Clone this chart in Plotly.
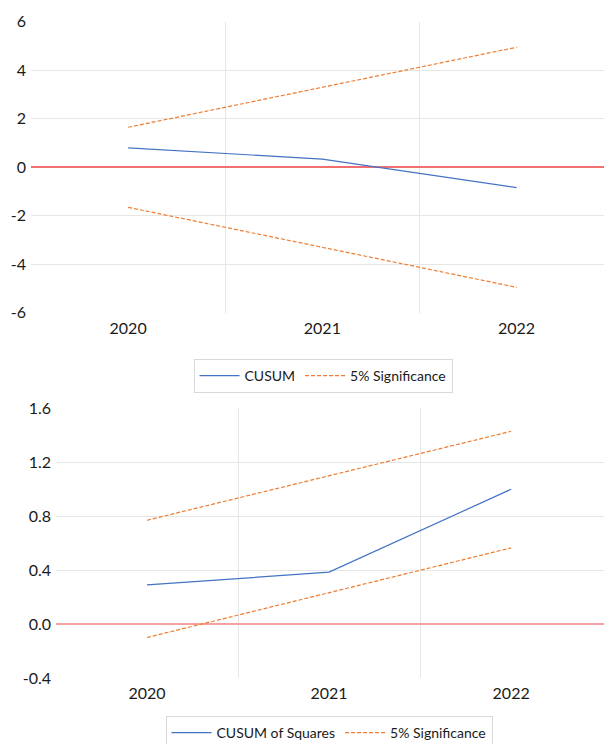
import plotly.graph_objects as go

# Recursive-residual stability tests by year
years = ["2020", "2021", "2022"]
cusum = [0.80, 0.34, -0.84]
cusum_upper = [1.65, 3.30, 4.95]
cusum_lower = [-1.65, -3.30, -4.95]

cusumsq = [0.29, 0.385, 1.00]
cusumsq_upper = [0.77, 1.10, 1.43]
cusumsq_lower = [-0.10, 0.235, 0.565]

top_yticks = [-6, -4, -2, 0, 2, 4, 6]
top_yticktext = ["-6", "-4", "-2", "0", "2", "4", "6"]
bottom_yticks = [-0.4, 0.0, 0.4, 0.8, 1.2, 1.6]
bottom_yticktext = ["-0.4", "0.0", "0.4", "0.8", "1.2", "1.6"]

BLUE = "#4472C4"
ORANGE = "#ED7D31"
GRID = "#E6E6E6"
FONT = "Lato"
TEXT = "#1a1a1a"

xpos = list(range(len(years)))

fig = go.Figure()

# Top panel: CUSUM
fig.add_trace(go.Scatter(x=xpos, y=cusum, mode="lines", name="CUSUM",
                         line=dict(color=BLUE, width=1.2),
                         xaxis="x", yaxis="y", legend="legend"))
fig.add_trace(go.Scatter(x=xpos, y=cusum_upper, mode="lines", name="5% Significance",
                         line=dict(color=ORANGE, width=1.2, dash="4px,2px"),
                         legendgroup="sig1", xaxis="x", yaxis="y", legend="legend"))
fig.add_trace(go.Scatter(x=xpos, y=cusum_lower, mode="lines", name="5% Significance",
                         line=dict(color=ORANGE, width=1.2, dash="4px,2px"),
                         legendgroup="sig1", showlegend=False,
                         xaxis="x", yaxis="y", legend="legend"))

# Bottom panel: CUSUM of Squares
fig.add_trace(go.Scatter(x=xpos, y=cusumsq, mode="lines", name="CUSUM of Squares",
                         line=dict(color=BLUE, width=1.2),
                         xaxis="x2", yaxis="y2", legend="legend2"))
fig.add_trace(go.Scatter(x=xpos, y=cusumsq_upper, mode="lines", name="5% Significance",
                         line=dict(color=ORANGE, width=1.2, dash="4px,2px"),
                         legendgroup="sig2", xaxis="x2", yaxis="y2", legend="legend2"))
fig.add_trace(go.Scatter(x=xpos, y=cusumsq_lower, mode="lines", name="5% Significance",
                         line=dict(color=ORANGE, width=1.2, dash="4px,2px"),
                         legendgroup="sig2", showlegend=False,
                         xaxis="x2", yaxis="y2", legend="legend2"))

tick_font = dict(family=FONT, size=16, color=TEXT)
legend_style = dict(orientation="h", xanchor="center",
                    bordercolor="#D9D9D9", borderwidth=1, bgcolor="white",
                    font=dict(family=FONT, size=14, color=TEXT),
                    traceorder="normal", itemwidth=40)

fig.update_layout(
    width=604, height=744,
    margin=dict(l=0, r=0, t=0, b=0, autoexpand=False),
    paper_bgcolor="white", plot_bgcolor="white",
    font=dict(family=FONT, color=TEXT),
    xaxis=dict(domain=[31 / 604, 1], range=[-0.5, 2.45],
               tickmode="array", tickvals=xpos, ticktext=years,
               showgrid=False, zeroline=False, showline=False, ticks="",
               tickfont=tick_font, anchor="y", ticklabelstandoff=4,
               minor=dict(tickvals=[0.5, 1.5], showgrid=True,
                          gridcolor=GRID, gridwidth=1, ticks="")),
    yaxis=dict(domain=[0.5796, 0.9707], range=[-6, 6],
               tickmode="array", tickvals=top_yticks, ticktext=top_yticktext,
               showgrid=False, zeroline=True, zerolinecolor="#F07070",
               zerolinewidth=1.5, showline=False, ticks="",
               tickfont=tick_font, anchor="x", ticklabelstandoff=4,
               minor=dict(tickvals=[-4, -2, 2, 4], showgrid=True,
                          gridcolor=GRID, gridwidth=1, ticks="")),
    xaxis2=dict(domain=[56 / 604, 1], range=[-0.5, 2.51],
                tickmode="array", tickvals=xpos, ticktext=years,
                showgrid=False, zeroline=False, showline=False, ticks="",
                tickfont=tick_font, anchor="y2", ticklabelstandoff=4,
                minor=dict(tickvals=[0.5, 1.5], showgrid=True,
                           gridcolor=GRID, gridwidth=1, ticks="")),
    yaxis2=dict(domain=[0.0888, 0.4511], range=[-0.4, 1.6],
                tickmode="array", tickvals=bottom_yticks, ticktext=bottom_yticktext,
                showgrid=False, zeroline=True, zerolinecolor="#F4A0A0",
                zerolinewidth=2, showline=False, ticks="",
                tickfont=tick_font, anchor="x2", ticklabelstandoff=4,
                minor=dict(tickvals=[0.4, 0.8, 1.2], showgrid=True,
                           gridcolor=GRID, gridwidth=1, ticks="")),
    legend=dict(x=323 / 604, y=(744 - 359) / 744, yanchor="top", **legend_style),
    legend2=dict(x=329 / 604, y=(744 - 716) / 744, yanchor="top", **legend_style),
)

fig.write_html("out.html")
